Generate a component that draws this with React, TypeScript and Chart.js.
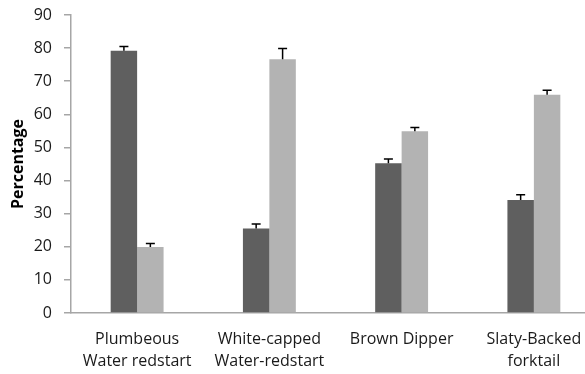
import React, { useEffect, useRef } from "react";
import { Chart, registerables } from "chart.js";

Chart.register(...registerables);

const categories: string[][] = [
  ["Plumbeous", "Water redstart"],
  ["White-capped", "Water-redstart"],
  ["Brown Dipper"],
  ["Slaty-Backed", "forktail"],
];
const seriesA: number[] = [79.2, 25.5, 45.2, 34.1];
const errorsA: number[] = [1.3, 1.4, 1.3, 1.6];
const seriesB: number[] = [19.9, 76.6, 54.9, 65.9];
const errorsB: number[] = [1.1, 3.3, 1.1, 1.4];
const yTicks = { min: 0, max: 90, step: 10 };

const errorBarPlugin = {
  id: "errorBars",
  afterDatasetsDraw(chart: any) {
    const ctx = chart.ctx;
    const yScale = chart.scales.y;
    chart.data.datasets.forEach((ds: any, di: number) => {
      const meta = chart.getDatasetMeta(di);
      const errs: number[] = ds.errors || [];
      meta.data.forEach((el: any, i: number) => {
        const v = ds.data[i];
        const e = errs[i] || 0;
        const yTop = yScale.getPixelForValue(v + e);
        const yBase = yScale.getPixelForValue(v);
        ctx.save();
        ctx.strokeStyle = "#000000";
        ctx.lineWidth = 1.5;
        ctx.beginPath();
        ctx.moveTo(el.x, yBase);
        ctx.lineTo(el.x, yTop);
        ctx.moveTo(el.x - 4.5, yTop);
        ctx.lineTo(el.x + 4.5, yTop);
        ctx.stroke();
        ctx.restore();
      });
    });
  },
};

export default function App() {
  const ref = useRef<HTMLCanvasElement | null>(null);
  useEffect(() => {
    if (!ref.current) return;
    const font = "'Open Sans', sans-serif";
    const chart = new Chart(ref.current, {
      type: "bar",
      data: {
        labels: categories,
        datasets: [
          {
            label: "A",
            data: seriesA,
            errors: errorsA,
            backgroundColor: "#5f5f5f",
            borderWidth: 0,
          } as any,
          {
            label: "B",
            data: seriesB,
            errors: errorsB,
            backgroundColor: "#b3b3b3",
            borderWidth: 0,
          } as any,
        ],
      },
      options: {
        responsive: false,
        animation: false,
        layout: { autoPadding: false, padding: { top: 15, left: 0, right: 0, bottom: 0 } },
        plugins: {
          legend: { display: false },
          tooltip: { enabled: false },
        },
        datasets: {
          bar: { categoryPercentage: 0.4, barPercentage: 1.0 },
        },
        scales: {
          x: {
            grid: { display: true, drawOnChartArea: false, drawTicks: false },
            border: { display: true, color: "#a6a6a6", width: 1.5 },
            ticks: {
              color: "#1a1a1a",
              font: { family: font, size: 16, lineHeight: 1.35 },
              padding: 16,
              maxRotation: 0,
              autoSkip: false,
            },
            afterFit(scale: any) {
              scale.height = 61;
              scale.paddingLeft = 0;
              scale.paddingRight = 0;
            },
          },
          y: {
            min: yTicks.min,
            max: yTicks.max,
            grid: {
              display: true,
              drawOnChartArea: false,
              drawTicks: true,
              tickLength: 7,
              color: "#a6a6a6",
              lineWidth: 1.5,
            },
            border: { display: true, color: "#a6a6a6", width: 1.5 },
            ticks: {
              stepSize: yTicks.step,
              color: "#1a1a1a",
              font: { family: font, size: 16 },
              padding: 12,
            },
            title: {
              display: true,
              text: "Percentage",
              color: "#000000",
              font: { family: font, size: 16, weight: "bold" },
              padding: { top: 9, bottom: 0 },
            },
            afterFit(scale: any) {
              scale.width = 71;
              scale.paddingTop = 0;
              scale.paddingBottom = 0;
            },
          },
        },
      },
      plugins: [errorBarPlugin],
    });
    return () => chart.destroy();
  }, []);
  return (
    <div
      style={{
        position: "fixed",
        left: 0,
        top: 0,
        width: 585,
        height: 374,
        overflow: "hidden",
        background: "#ffffff",
      }}
    >
      <canvas ref={ref} width={600} height={374} style={{ display: "block" }} />
    </div>
  );
}
